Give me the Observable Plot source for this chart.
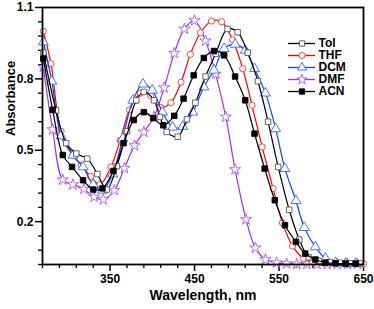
<!DOCTYPE html>
<html>
<head>
<meta charset="utf-8">
<script src="https://cdn.jsdelivr.net/npm/d3@7"></script>
<script src="https://cdn.jsdelivr.net/npm/@observablehq/plot@0.6"></script>
<style>
  html, body { margin: 0; padding: 0; background: #fff; }
  #wrap { position: relative; width: 374px; height: 309px; font-family: "Liberation Sans", Arial, sans-serif; }
  #legend { position: absolute; left: 283px; top: 27px; }
</style>
</head>
<body>
<div id="wrap"><div id="chart"></div><div id="legend"></div></div>
<script>
// ---- data ----
const seriesNames = ["Tol", "THF", "DCM", "DMF", "ACN"];

const wlTol  = [271,286,298,310,323,335,346,358,370,381,390,402,409,417,430,441,451,463,475,489,501,513,525,537,549,562,574,585,597,610,622,634,646];
const absTol = [0.91,0.668,0.53,0.486,0.465,0.40,0.335,0.433,0.58,0.71,0.745,0.71,0.64,0.577,0.557,0.63,0.70,0.81,0.906,1.01,0.996,0.91,0.79,0.62,0.43,0.25,0.125,0.05,0.035,0.03,0.027,0.025,0.025];

const wlTHF  = [271,280,292,306,316,327,338,351,362,373,386,398,410,422,434,445,457,470,482,495,507,518,530,543,554,566,579,590,602,614,626,638,650];
const absTHF = [1.0,0.864,0.58,0.479,0.437,0.39,0.356,0.43,0.542,0.67,0.74,0.73,0.68,0.70,0.786,0.903,0.994,1.043,1.04,0.964,0.843,0.689,0.514,0.339,0.195,0.098,0.045,0.03,0.026,0.025,0.024,0.023,0.023];

const wlDCM  = [271,281,292,306,318,330,341,353,365,377,389,400,412,424,436,448,461,473,485,498,510,521,534,546,557,570,580,593,605,617,629,641];
const absDCM = [0.955,0.79,0.56,0.479,0.43,0.356,0.332,0.40,0.55,0.71,0.778,0.752,0.66,0.597,0.60,0.66,0.766,0.836,0.927,0.945,0.92,0.843,0.74,0.59,0.423,0.288,0.175,0.094,0.045,0.028,0.025,0.024];

const wlDMF  = [271,282,294,306,319,331,342,355,367,379,390,402,414,426,438,450,463,475,487,498,511,522,534,547,559,571,583,595,607,619,631,643];
const absDMF = [0.85,0.587,0.376,0.356,0.337,0.304,0.293,0.332,0.425,0.52,0.577,0.64,0.763,0.908,1.01,1.045,0.96,0.82,0.64,0.419,0.209,0.09,0.041,0.028,0.024,0.022,0.022,0.021,0.021,0.021,0.021,0.021];

const wlACN  = [271,282,294,305,318,330,341,354,366,378,390,401,413,426,437,449,461,473,485,498,510,521,533,545,557,570,581,593,605,617,629,641];
const absACN = [0.885,0.67,0.48,0.43,0.374,0.335,0.34,0.413,0.53,0.627,0.66,0.635,0.605,0.645,0.717,0.815,0.888,0.917,0.899,0.81,0.71,0.57,0.423,0.29,0.185,0.115,0.066,0.041,0.028,0.025,0.024,0.024];

const xTicks = [350, 450, 550, 650];
const yTicks = [0.2, 0.5, 0.8, 1.1];
const xMinor = d3.range(270, 651, 20).filter(v => !xTicks.some(t => Math.abs(t - v) < 1e-6));
const yMinor = d3.range(0.02, 1.1001, 0.06).filter(v => !yTicks.some(t => Math.abs(t - v) < 1e-6));

// ---- styling table ----
const styles = {
  Tol: { line: "#000000", stroke: "#555555", fill: "#ffffff", symbol: "square",   r: 3.1 },
  THF: { line: "#ff0000", stroke: "#ff3333", fill: "#ffffff", symbol: "circle",   r: 3.1 },
  DCM: { line: "#1144ff", stroke: "#3366ff", fill: "#ffffff", symbol: "triangle", r: 3.7 },
  DMF: { line: "#9933ee", stroke: "#aa55ff", fill: "#ffffff", symbol: "star",     r: 3.5 },
  ACN: { line: "#000000", stroke: "#000000", fill: "#000000", symbol: "square",   r: 3.1 }
};
const series = {
  Tol: [wlTol, absTol], THF: [wlTHF, absTHF], DCM: [wlDCM, absDCM], DMF: [wlDMF, absDMF], ACN: [wlACN, absACN]
};
const drawOrder = ["DMF", "THF", "DCM", "Tol", "ACN"];

const seriesMarks = [];
for (const name of drawOrder) {
  const [wl, ab] = series[name];
  const rows = wl.map((w, i) => ({ w, a: ab[i] }));
  const s = styles[name];
  seriesMarks.push(Plot.line(rows, { x: "w", y: "a", stroke: s.line, strokeWidth: 1.2, curve: "catmull-rom" }));
  seriesMarks.push(Plot.dot(rows, { x: "w", y: "a", symbol: () => s.symbol, r: s.r, stroke: s.stroke, fill: s.fill, strokeWidth: 0.9 }));
}

const font = "'Liberation Sans', Arial, sans-serif";

const chart = Plot.plot({
  width: 374, height: 309,
  marginLeft: 42, marginRight: 11, marginTop: 7, marginBottom: 45,
  x: { domain: [270, 650], label: null },
  y: { domain: [0.02, 1.1], label: null },
  symbol: { type: "identity" },
  style: { fontFamily: font, fontSize: "12px", fontWeight: "bold", color: "#000", background: "#fff" },
  marks: [
    Plot.axisY(yMinor, { anchor: "left", tickSize: 4, text: null, tickFormat: () => "", strokeWidth: 1.3 }),
    Plot.axisY(yTicks, { anchor: "left", tickSize: 7, tickPadding: 2, strokeWidth: 1.5, tickFormat: d => d.toFixed(1), fontWeight: "bold", fontSize: 12 }),
    Plot.axisX(xMinor, { anchor: "bottom", tickSize: 4, text: null, tickFormat: () => "", strokeWidth: 1.3 }),
    Plot.axisX(xTicks, { anchor: "bottom", tickSize: 7, tickPadding: 3, strokeWidth: 1.5, tickFormat: d => String(d), fontWeight: "bold", fontSize: 12 }),
    ...seriesMarks,
    Plot.frame({ stroke: "#000", strokeWidth: 1.8 }),
    Plot.text(["Absorbance"], { text: d => d, frameAnchor: "left", rotate: -90, dx: -32, fontSize: 13, fontWeight: "bold" }),
    Plot.text(["Wavelength, nm"], { text: d => d, frameAnchor: "bottom", dy: 35, fontSize: 14, fontWeight: "bold" })
  ]
});
document.getElementById("chart").appendChild(chart);

// ---- legend (drawn with Plot) ----
const legendRows = seriesNames.map(n => ({ name: n }));
const legend = Plot.plot({
  width: 80, height: 82,
  margin: 0,
  x: { domain: [0, 80], range: [0, 80] },
  y: { type: "point", domain: seriesNames, range: [8.5, 72] },
  symbol: { type: "identity" },
  axis: null,
  style: { fontFamily: font, fontSize: "12px", fontWeight: "bold", background: "transparent", overflow: "visible" },
  marks: [
    Plot.ruleY(legendRows, { y: "name", x1: 5, x2: 32, stroke: d => styles[d.name].line, strokeWidth: 1.3 }),
    Plot.dot(legendRows, { y: "name", x: 18.5, symbol: d => styles[d.name].symbol, r: d => styles[d.name].r, stroke: d => styles[d.name].stroke, fill: d => styles[d.name].fill, strokeWidth: 0.9 }),
    Plot.text(legendRows, { y: "name", x: 35, text: "name", textAnchor: "start", fontSize: 12, fontWeight: "bold", fill: "#000" })
  ]
});
document.getElementById("legend").appendChild(legend);
</script>
</body>
</html>
